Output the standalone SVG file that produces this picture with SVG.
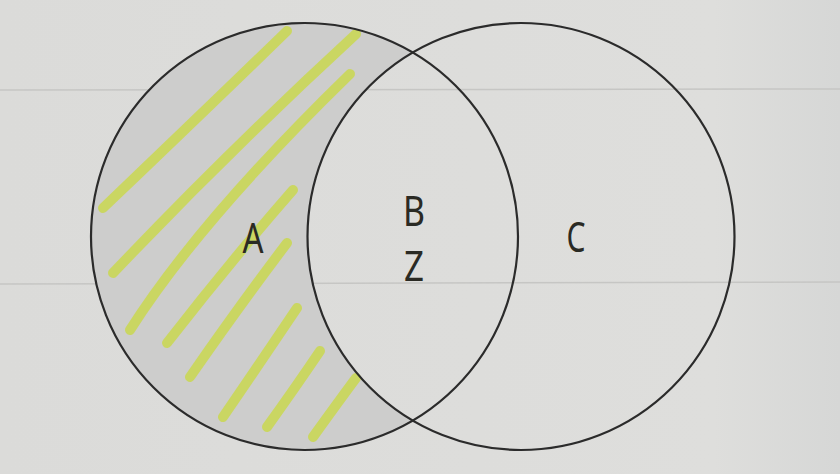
<svg xmlns="http://www.w3.org/2000/svg" width="840" height="474" viewBox="0 0 840 474">
  <style>
    .ring { fill: none; stroke: #2b2b2b; stroke-width: 2.2; }
    .hatch { fill: none; stroke: #cad757; stroke-width: 10; stroke-linecap: round; stroke-linejoin: round; opacity: 0.9; }
    .lbl { font-family: "Noto Sans", "Liberation Sans", sans-serif; font-size: 42px; fill: #2a2a24; text-anchor: middle; }
    .rule { stroke: #c6c6c4; stroke-width: 1.5; }
  </style>
  <defs>
    <linearGradient id="paper" x1="0" y1="0" x2="1" y2="0">
      <stop offset="0" stop-color="#dbdbd9"/>
      <stop offset="0.85" stop-color="#dededc"/>
      <stop offset="1" stop-color="#d6d7d6"/>
    </linearGradient>
  </defs>
  <rect x="0" y="0" width="840" height="474" fill="url(#paper)"/>
  <line class="rule" x1="0" y1="90" x2="840" y2="89"/>
  <line class="rule" x1="0" y1="284" x2="840" y2="282"/>

  <g id="regionA">
    <path d="M412.75,52.5 A213.5,213.5 0 1 0 412.75,420.5 A213.5,213.5 0 0 1 412.75,52.5 Z" fill="#cdcdcc"/>
    <g id="hatching">
      <path class="hatch" d="M103,208 Q190,125 287,31"/>
      <path class="hatch" d="M113,273 Q230,150 356,34"/>
      <path class="hatch" d="M130,330 Q200,220 350,74"/>
      <path class="hatch" d="M167,343 Q230,262 293,190"/>
      <path class="hatch" d="M190,377 Q240,305 287,243"/>
      <path class="hatch" d="M223,417 Q262,360 297,308"/>
      <path class="hatch" d="M267,427 Q295,388 320,351"/>
      <path class="hatch" d="M313,437 Q336,405 356,378"/>
    </g>
  </g>

  <g id="circleLeft">
    <circle class="ring" cx="304.5" cy="236.5" r="213.5"/>
    <text class="lbl" x="253" y="253" textLength="21" lengthAdjust="spacingAndGlyphs">A</text>
  </g>
  <g id="intersection">
    <text class="lbl" x="414" y="226" textLength="22" lengthAdjust="spacingAndGlyphs">B</text>
    <text class="lbl" x="414" y="281" textLength="20" lengthAdjust="spacingAndGlyphs">Z</text>
  </g>
  <g id="circleRight">
    <circle class="ring" cx="521" cy="236.5" r="213.5"/>
    <text class="lbl" x="576" y="252" textLength="19" lengthAdjust="spacingAndGlyphs">C</text>
  </g>
  <g id="connectors"/>
</svg>
